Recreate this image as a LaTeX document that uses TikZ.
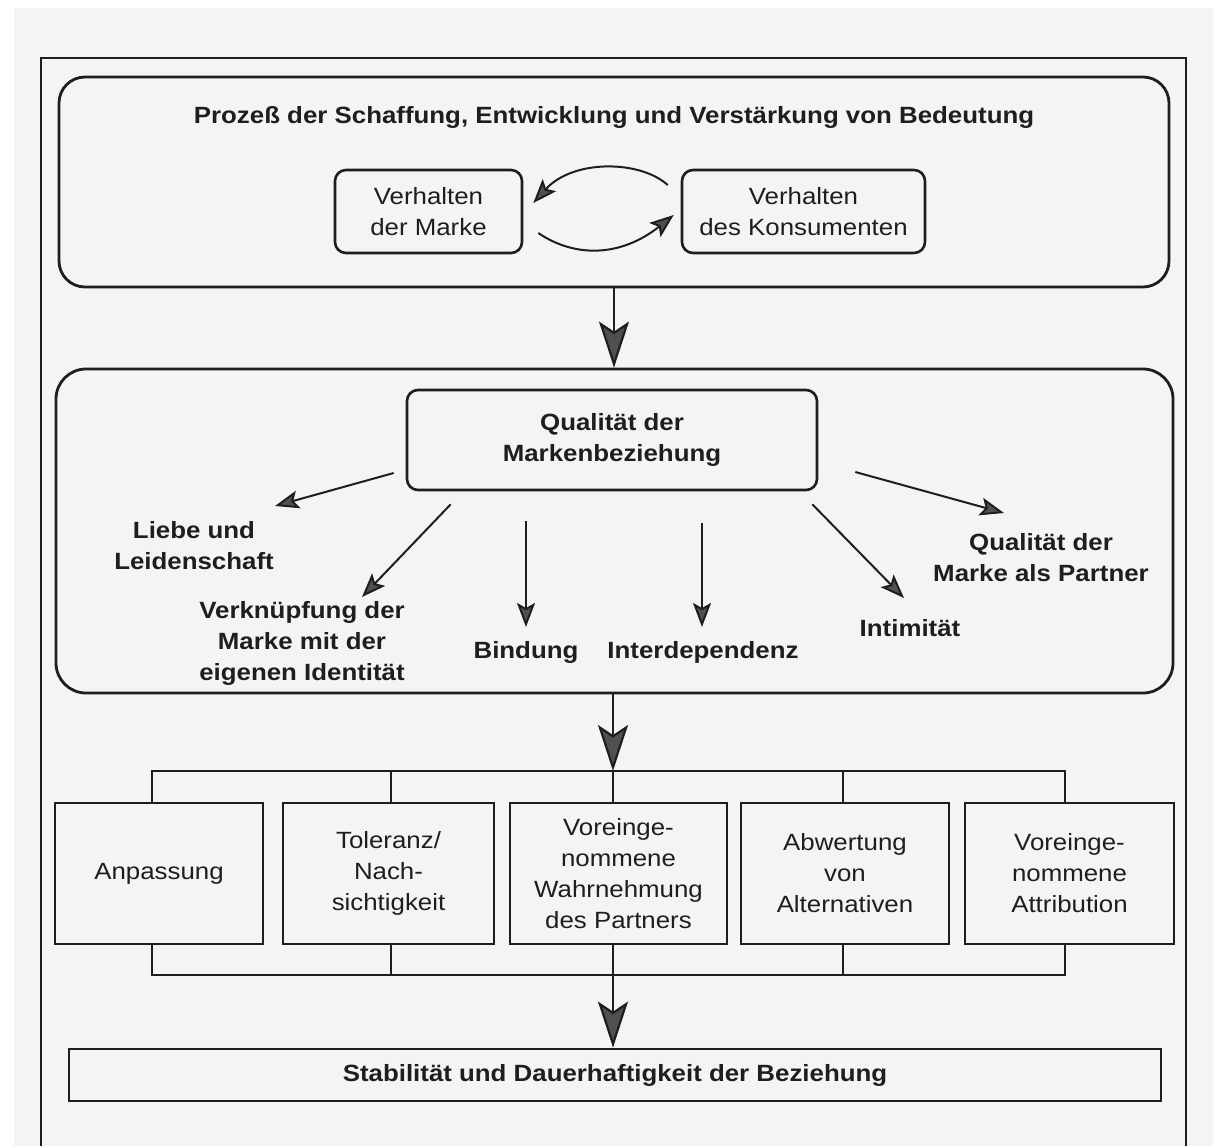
\documentclass[tikz,border=0pt]{standalone}
\usepackage{fontspec}
\setmainfont[FakeStretch=1.1]{Liberation Sans}
\usetikzlibrary{arrows.meta}
\definecolor{paper}{RGB}{244,244,243}
\definecolor{ink}{RGB}{30,30,30}
\definecolor{tipgray}{RGB}{80,80,80}

\begin{document}
\begin{tikzpicture}[x=1pt,y=-1pt,
  every node/.style={font=\fontsize{23.5}{31}\selectfont, text=ink, inner sep=0pt, align=center},
  lbl/.style={font=\fontsize{23.5}{31}\selectfont\bfseries},
  roundbox/.style={draw=ink, line width=2.6pt, rounded corners=11pt},
  squarebox/.style={draw=ink, line width=2.8pt},
  panel/.style={draw=ink, line width=2.8pt},
  bigarrow/.style={draw=ink, line width=2.2pt, -{Stealth[length=46pt,width=30pt,inset=10pt,fill=tipgray]}},
  arr/.style={draw=ink, line width=2pt, -{Stealth[length=24pt,width=18pt,inset=5pt,fill=tipgray]}},
  bracket/.style={draw=ink, line width=2.8pt},
]
% page
\fill[white] (0,0) rectangle (1213,1146);
\fill[paper] (14,8) rectangle (1213,1146);
\useasboundingbox (0,0) rectangle (1213,1146);

% surrounding frame, open at the bottom
\draw[ink, line width=2pt] (41,1146) -- (41,58) -- (1186,58) -- (1186,1146);

% first panel: process of meaning
\node[panel, rounded corners=26pt, minimum width=1110pt, minimum height=210pt] (proc) at (614,182) {};
\node[lbl] (title) at (614,117) {Prozeß der Schaffung, Entwicklung und Verstärkung von Bedeutung};
\node[roundbox, minimum width=187pt, minimum height=83pt] (vm) at (428.5,211.5) {Verhalten\\der Marke};
\node[roundbox, minimum width=243pt, minimum height=83pt] (vk) at (803.5,211.5) {Verhalten\\des Konsumenten};
\draw[arr] ([shift={(-13,-26.5)}]vk.west) .. controls (640,160) and (573,159) .. ([shift={(10,-8.5)}]vm.east);
\draw[arr] ([shift={(15,21.5)}]vm.east) .. controls (575,258) and (621,257) .. ([shift={(-7,3.5)}]vk.west);

% second panel: relationship quality
\node[panel, rounded corners=30pt, minimum width=1117pt, minimum height=324pt] (rel) at (614.5,531) {};
\draw[bigarrow] (proc.south) -- (proc.south |- rel.north);

\node[roundbox, lbl, minimum width=410pt, minimum height=100pt] (q) at (612,440) {Qualität der\\Markenbeziehung};
\node[lbl] (liebe) at (194,546) {Liebe und\\Leidenschaft};
\node[lbl] (verk) at (302,643) {Verknüpfung der\\Marke mit der\\eigenen Identität};
\node[lbl] (bind) at (526,652) {Bindung};
\node[lbl] (inter) at (703,652) {Interdependenz};
\node[lbl] (intim) at (910,628) {Intimität};
\node[lbl] (qmp) at (1041,558) {Qualität der\\Marke als Partner};

\draw[arr] ([shift={(-12,33)}]q.west) -- ([shift={(81,-40)}]liebe.center);
\draw[arr] ([shift={(45,13)}]q.south west) -- ([shift={(60,-46)}]verk.center);
\draw[arr] ([shift={(-86,30)}]q.south) -- ([shift={(0,-25)}]bind.center);
\draw[arr] ([shift={(90,32)}]q.south) -- ([shift={(-1,-25)}]inter.center);
\draw[arr] ([shift={(-6,13)}]q.south east) -- ([shift={(-6,-30)}]intim.center);
\draw[arr] ([shift={(37,32)}]q.east) -- ([shift={(-37,-45)}]qmp.center);

% third row: relationship-maintaining processes
\node[squarebox, minimum width=208pt, minimum height=141pt] (anp) at (159,873.5) {Anpassung};
\node[squarebox, minimum width=211pt, minimum height=141pt] (tol) at (388.5,873.5) {Toleranz/\\Nach-\\sichtigkeit};
\node[squarebox, minimum width=217pt, minimum height=141pt] (vwp) at (618.5,873.5) {Voreinge-\\nommene\\Wahrnehmung\\des Partners};
\node[squarebox, minimum width=208pt, minimum height=141pt] (abw) at (845,873.5) {Abwertung\\von\\Alternativen};
\node[squarebox, minimum width=209pt, minimum height=141pt] (vat) at (1069.5,873.5) {Voreinge-\\nommene\\Attribution};

\coordinate (t1) at (152,771);
\coordinate (t2) at (391,771);
\coordinate (t3) at (613,771);
\coordinate (t4) at (843,771);
\coordinate (t5) at (1065,771);
\coordinate (b1) at (152,975);
\coordinate (b2) at (391,975);
\coordinate (b3) at (613,975);
\coordinate (b4) at (843,975);
\coordinate (b5) at (1065,975);

\draw[bracket] (t1 |- anp.north) -- (t1) -- (t5) -- (t5 |- vat.north);
\draw[bracket] (t2) -- (t2 |- tol.north);
\draw[bracket] (t3) -- (t3 |- vwp.north);
\draw[bracket] (t4) -- (t4 |- abw.north);
\draw[bracket] (b1 |- anp.south) -- (b1) -- (b5) -- (b5 |- vat.south);
\draw[bracket] (b2) -- (b2 |- tol.south);
\draw[bracket] (b3) -- (b3 |- vwp.south);
\draw[bracket] (b4) -- (b4 |- abw.south);

\draw[bigarrow] (rel.south -| t3) -- (t3);

% result
\node[squarebox, lbl, minimum width=1092pt, minimum height=52pt] (stab) at (615,1075) {Stabilität und Dauerhaftigkeit der Beziehung};
\draw[bigarrow] (b3) -- (b3 |- stab.north);
\end{tikzpicture}
\end{document}
